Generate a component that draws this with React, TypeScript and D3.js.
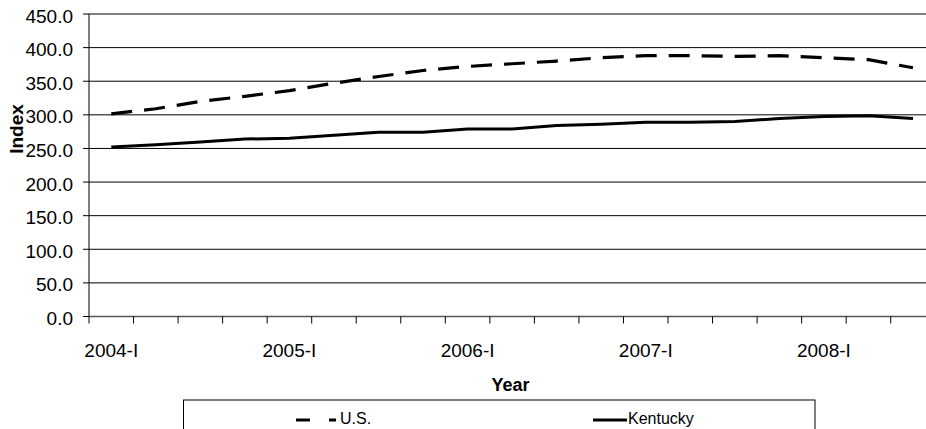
import React from "react";
import * as d3 from "d3";

const categories = [
  "2004-I", "2004-II", "2004-III", "2004-IV",
  "2005-I", "2005-II", "2005-III", "2005-IV",
  "2006-I", "2006-II", "2006-III", "2006-IV",
  "2007-I", "2007-II", "2007-III", "2007-IV",
  "2008-I", "2008-II", "2008-III",
];
const usValues = [301.5, 309, 320, 327.5, 336, 347, 357, 366, 372, 376, 380, 385, 388, 388, 387, 388, 385, 382, 370];
const kyValues = [252, 255.5, 259.5, 264, 265, 269.5, 274, 274, 279, 279, 284, 286, 289, 289, 290, 294.5, 297.5, 298.5, 294.5];
const yTicks = [0, 50, 100, 150, 200, 250, 300, 350, 400, 450];
const xLabels = ["2004-I", "2005-I", "2006-I", "2007-I", "2008-I"];

const W = 926;
const H = 429;
const left = 89;
const step = 44.54;
const right = left + step * categories.length;
const top = 14;
const bottom = 316.5;
const font = "'Liberation Sans', Arial, sans-serif";

export default function App() {
  const x = d3.scaleBand<string>().domain(categories).range([left, right]).padding(0);
  const y = d3.scaleLinear().domain([0, 450]).range([bottom, top]);
  const cx = (c: string) => (x(c) as number) + x.bandwidth() / 2;
  const line = d3
    .line<number>()
    .x((_, i) => cx(categories[i]))
    .y((v) => y(v));
  const tickPositions = d3.range(categories.length + 1).map((i) => left + i * x.step());

  return (
    <svg
      width={W}
      height={H}
      style={{ position: "absolute", left: 0, top: 0, background: "#fff" }}
      fontFamily={font}
    >
      {/* gridlines */}
      {yTicks.slice(1).map((t) => (
        <line key={t} x1={left} x2={right} y1={y(t)} y2={y(t)} stroke="#000" strokeWidth={1} />
      ))}
      {/* y axis */}
      <line x1={left} x2={left} y1={top} y2={bottom} stroke="#000" strokeWidth={1} />
      {yTicks.map((t) => (
        <g key={t}>
          <line x1={left - 6} x2={left} y1={y(t)} y2={y(t)} stroke="#000" />
          <text x={73} y={y(t) + 8.6} textAnchor="end" fontSize={19} fill="#000">
            {t.toFixed(1)}
          </text>
        </g>
      ))}
      {/* x axis */}
      <line x1={left} x2={right} y1={bottom} y2={bottom} stroke="#555" strokeWidth={1.5} />
      {tickPositions.map((p, i) => (
        <line key={i} x1={p} x2={p} y1={bottom} y2={bottom + 7} stroke="#000" />
      ))}
      {xLabels.map((c) => (
        <text key={c} x={cx(c)} y={356.5} textAnchor="middle" fontSize={19} fill="#000">
          {c}
        </text>
      ))}
      {/* axis titles */}
      <text x={510.5} y={390.7} textAnchor="middle" fontSize={18} fontWeight="bold" fill="#000">
        Year
      </text>
      <text
        transform="translate(23,129) rotate(-90)"
        textAnchor="middle"
        fontSize={19}
        fontWeight="bold"
        fill="#000"
      >
        Index
      </text>
      {/* series */}
      <path d={line(usValues) || ""} fill="none" stroke="#000" strokeWidth={3.2} strokeDasharray="21 12" />
      <path d={line(kyValues) || ""} fill="none" stroke="#000" strokeWidth={3} />
      {/* legend */}
      <rect x={183.5} y={400} width={631.5} height={60} fill="#fff" stroke="#000" strokeWidth={1} />
      <line x1={296} x2={336} y1={420} y2={420} stroke="#000" strokeWidth={3} strokeDasharray="14 19" />
      <text x={340} y={423.5} fontSize={16} fill="#000">U.S.</text>
      <line x1={593} x2={627} y1={420} y2={420} stroke="#000" strokeWidth={3} />
      <text x={628} y={423.5} fontSize={16} fill="#000">Kentucky</text>
    </svg>
  );
}
